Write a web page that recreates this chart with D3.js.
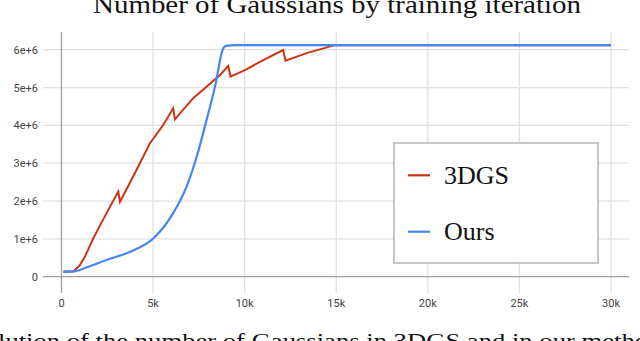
<!DOCTYPE html>
<html>
<head>
<meta charset="utf-8">
<script src="https://cdn.jsdelivr.net/npm/d3@7"></script>
<style>
  body { margin: 0; background: #fff; }
  svg { display: block; }
  .tick-label { font-family: Roboto, "Noto Sans", sans-serif; font-size: 11px; fill: #444; }
  .serif { font-family: "Liberation Serif", "DejaVu Serif", serif; fill: #111; }
</style>
</head>
<body>
<svg id="chart" width="640" height="341"></svg>
<script>
// Data (iteration, number of Gaussians)
var iters3dgs = [100, 650, 1000, 1300, 1740, 2460, 3100, 3190, 3700, 4280, 4830, 5550, 6100, 6190, 7190, 7920, 8650, 9100, 9230, 10100, 10830, 12100, 12230, 13380, 14920, 30000];
var gauss3dgs = [0.14e6, 0.14e6, 0.30e6, 0.55e6, 1.02e6, 1.68e6, 2.25e6, 1.98e6, 2.45e6, 3.0e6, 3.53e6, 4.01e6, 4.45e6, 4.16e6, 4.72e6, 5.02e6, 5.33e6, 5.57e6, 5.29e6, 5.48e6, 5.68e6, 5.99e6, 5.71e6, 5.91e6, 6.12e6, 6.12e6];
var itersOurs = [100, 700, 1500, 2460, 3750, 5010, 6100, 6830, 7380, 7920, 8420, 8790, 8970, 9500, 30000];
var gaussOurs = [0.13e6, 0.14e6, 0.27e6, 0.44e6, 0.66e6, 1.01e6, 1.68e6, 2.38e6, 3.17e6, 4.14e6, 5.11e6, 5.99e6, 6.10e6, 6.12e6, 6.12e6];
var xTicks = [0, 5000, 10000, 15000, 20000, 25000, 30000];
var xTickLabels = ["0", "5k", "10k", "15k", "20k", "25k", "30k"];
var yTicks = [0, 1e6, 2e6, 3e6, 4e6, 5e6, 6e6];
var yTickLabels = ["0", "1e+6", "2e+6", "3e+6", "4e+6", "5e+6", "6e+6"];
var seriesNames = ["3DGS", "Ours"];
var colors = ["#cc3311", "#4285f4"];

var svg = d3.select("#chart");

var x = d3.scaleLinear().domain([0, 30000]).range([61.5, 611]);
var y = d3.scaleLinear().domain([0, 6e6]).range([276.7, 49.7]);

// title (cut at the top like the original)
svg.append("text").attr("class", "serif")
  .attr("x", 93).attr("y", 12.5)
  .attr("font-size", 25)
  .attr("textLength", 488).attr("lengthAdjust", "spacingAndGlyphs")
  .text("Number of Gaussians by training iteration");

// gridlines
var grid = svg.append("g");
grid.selectAll("line.h").data(yTicks.slice(1)).enter().append("line")
  .attr("x1", 43).attr("x2", 629)
  .attr("y1", function(d){ return y(d); }).attr("y2", function(d){ return y(d); })
  .attr("stroke", "#e0e0e0").attr("stroke-width", 1.3);
grid.selectAll("line.v").data(xTicks.slice(1)).enter().append("line")
  .attr("y1", 32).attr("y2", 293)
  .attr("x1", function(d){ return x(d); }).attr("x2", function(d){ return x(d); })
  .attr("stroke", "#e0e0e0").attr("stroke-width", 1.3);

// axis lines
svg.append("line").attr("x1", 43).attr("x2", 629).attr("y1", y(0)).attr("y2", y(0))
  .attr("stroke", "#9e9e9e").attr("stroke-width", 1.3);
svg.append("line").attr("x1", x(0)).attr("x2", x(0)).attr("y1", 32).attr("y2", 293)
  .attr("stroke", "#9e9e9e").attr("stroke-width", 1.3);

// tick labels
svg.selectAll("text.ylab").data(yTicks).enter().append("text")
  .attr("class", "tick-label")
  .attr("x", 38).attr("y", function(d){ return y(d) + 4; })
  .attr("text-anchor", "end")
  .text(function(d, i){ return yTickLabels[i]; });
svg.selectAll("text.xlab").data(xTicks).enter().append("text")
  .attr("class", "tick-label")
  .attr("x", function(d){ return x(d); }).attr("y", 307)
  .attr("text-anchor", "middle")
  .text(function(d, i){ return xTickLabels[i]; });

// lines
var line3dgs = d3.line()
  .x(function(d, i){ return x(iters3dgs[i]); })
  .y(function(d){ return y(d); });
var lineOurs = d3.line()
  .x(function(d, i){ return x(itersOurs[i]); })
  .y(function(d){ return y(d); })
  .curve(d3.curveMonotoneX);

svg.append("path").datum(gauss3dgs).attr("d", line3dgs)
  .attr("fill", "none").attr("stroke", colors[0]).attr("stroke-width", 2)
  .attr("stroke-linejoin", "miter");
svg.append("path").datum(gaussOurs).attr("d", lineOurs)
  .attr("fill", "none").attr("stroke", colors[1]).attr("stroke-width", 2.2);

// legend
var legend = svg.append("g");
legend.append("rect").attr("x", 394).attr("y", 143).attr("width", 204).attr("height", 120)
  .attr("fill", "#fff").attr("stroke", "#a8a8a8").attr("stroke-width", 1.3);
var legY = [175.3, 231.7];
seriesNames.forEach(function(name, i){
  legend.append("line").attr("x1", 408).attr("x2", 430)
    .attr("y1", legY[i]).attr("y2", legY[i])
    .attr("stroke", colors[i]).attr("stroke-width", 2.2);
  legend.append("text").attr("class", "serif")
    .attr("x", 444).attr("y", legY[i] + 8.5)
    .attr("font-size", 26)
    .text(name);
});

// caption below the figure, mostly cut off
svg.append("text").attr("class", "serif")
  .attr("x", -2).attr("y", 348)
  .attr("font-size", 20)
  .attr("textLength", 670).attr("lengthAdjust", "spacingAndGlyphs")
  .text("lution of the number of Gaussians in 3DGS and in our method.");
</script>
</body>
</html>
